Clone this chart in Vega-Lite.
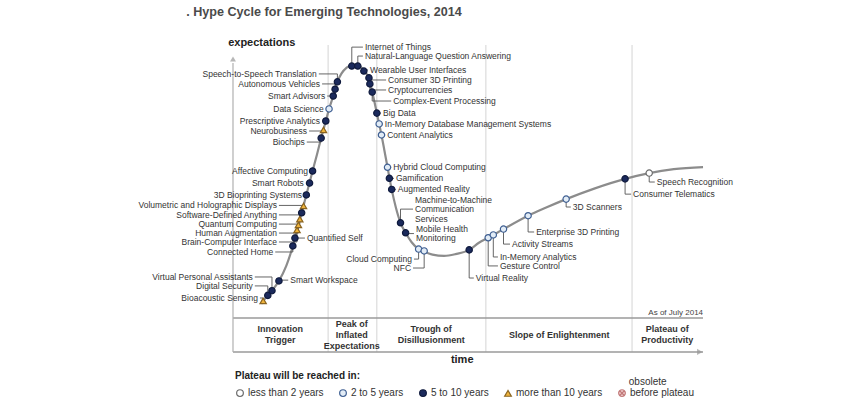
{
  "$schema": "https://vega.github.io/schema/vega-lite/v6.json",
  "width": 464,
  "height": 263,
  "autosize": {"type": "none"},
  "padding": {"left": 233, "top": 55, "right": 153, "bottom": 81},
  "background": "#ffffff",
  "config": {"view": {"stroke": null}, "font": "Liberation Sans", "axis": {"disable": true}},
  "datasets": {
    "separators": [{"t": 20.5}, {"t": 31.0}, {"t": 54.5}, {"t": 86.0}],
    "bandLines": [{"e": 0}, {"e": -12.9}],
    "yline": [{"t": 0}],
    "arrowUp": [{"t": 0, "e": 98.5}],
    "arrowRight": [{"t": 100.6, "e": -12.9}],
    "curve": [
      {"t": 6.1, "e": 5.4}, {"t": 6.5, "e": 6.5}, {"t": 7.5, "e": 8.6}, {"t": 8.4, "e": 10.4},
      {"t": 9.9, "e": 14.1}, {"t": 11.5, "e": 19.9}, {"t": 12.9, "e": 27.4}, {"t": 13.8, "e": 33.5},
      {"t": 14.8, "e": 40.0}, {"t": 15.8, "e": 46.8}, {"t": 17.15, "e": 55.9}, {"t": 18.1, "e": 62.2},
      {"t": 19.0, "e": 68.4}, {"t": 20.0, "e": 74.9}, {"t": 20.7, "e": 79.5}, {"t": 21.6, "e": 84.4},
      {"t": 22.0, "e": 87.0}, {"t": 22.5, "e": 89.8}, {"t": 23.4, "e": 93.0}, {"t": 24.5, "e": 95.2},
      {"t": 25.6, "e": 96.2}, {"t": 26.3, "e": 96.4}, {"t": 26.9, "e": 96.2}, {"t": 28.2, "e": 94.2},
      {"t": 29.3, "e": 91.0}, {"t": 30.0, "e": 86.0}, {"t": 31.0, "e": 77.9}, {"t": 31.5, "e": 73.8},
      {"t": 32.0, "e": 69.6}, {"t": 32.6, "e": 64.0}, {"t": 33.3, "e": 57.3}, {"t": 34.2, "e": 48.9},
      {"t": 35.1, "e": 42.0}, {"t": 36.1, "e": 36.2}, {"t": 37.2, "e": 32.4}, {"t": 38.5, "e": 28.8},
      {"t": 40.0, "e": 26.2}, {"t": 41.2, "e": 25.2}, {"t": 43.0, "e": 24.1}, {"t": 45.5, "e": 23.6},
      {"t": 48.0, "e": 24.3}, {"t": 50.9, "e": 25.9}, {"t": 53.0, "e": 28.6}, {"t": 55.0, "e": 30.5},
      {"t": 58.3, "e": 33.8}, {"t": 63.6, "e": 38.9}, {"t": 67.5, "e": 42.0}, {"t": 71.8, "e": 45.2},
      {"t": 78.0, "e": 49.3}, {"t": 84.5, "e": 52.9}, {"t": 89.7, "e": 55.1}, {"t": 95.0, "e": 56.6},
      {"t": 101.3, "e": 57.4}
    ],
    "techs": [
      {"tech": "Bioacoustic Sensing", "plateau": "more than 10 years", "t": 6.5, "e": 6.5, "lx": 5.8, "ly": 7.6, "side": "L"},
      {"tech": "Digital Security", "plateau": "5 to 10 years", "t": 7.5, "e": 8.6, "lx": 4.7, "ly": 12.2, "side": "L"},
      {"tech": "Virtual Personal Assistants", "plateau": "5 to 10 years", "t": 8.4, "e": 10.4, "lx": 4.7, "ly": 15.6, "side": "L"},
      {"tech": "Smart Workspace", "plateau": "5 to 10 years", "t": 9.9, "e": 14.1, "lx": 11.9, "ly": 14.4, "side": "R"},
      {"tech": "Connected Home", "plateau": "5 to 10 years", "t": 12.9, "e": 27.4, "lx": 9.1, "ly": 25.1, "side": "L"},
      {"tech": "Quantified Self", "plateau": "5 to 10 years", "t": 13.35, "e": 30.4, "lx": 15.5, "ly": 30.4, "side": "R"},
      {"tech": "Brain-Computer Interface", "plateau": "more than 10 years", "t": 13.8, "e": 33.5, "lx": 9.9, "ly": 28.9, "side": "L"},
      {"tech": "Human Augmentation", "plateau": "more than 10 years", "t": 14.1, "e": 35.4, "lx": 9.9, "ly": 32.3, "side": "L"},
      {"tech": "Quantum Computing", "plateau": "more than 10 years", "t": 14.4, "e": 37.6, "lx": 9.9, "ly": 35.7, "side": "L"},
      {"tech": "Software-Defined Anything", "plateau": "5 to 10 years", "t": 14.8, "e": 40.0, "lx": 9.9, "ly": 39.2, "side": "L"},
      {"tech": "Volumetric and Holographic Displays", "plateau": "more than 10 years", "t": 15.2, "e": 42.6, "lx": 9.9, "ly": 42.8, "side": "L"},
      {"tech": "3D Bioprinting Systems", "plateau": "5 to 10 years", "t": 15.8, "e": 46.8, "lx": 15.3, "ly": 46.8, "side": "L"},
      {"tech": "Smart Robots", "plateau": "5 to 10 years", "t": 16.5, "e": 51.3, "lx": 15.7, "ly": 51.3, "side": "L"},
      {"tech": "Affective  Computing", "plateau": "5 to 10 years", "t": 17.15, "e": 55.9, "lx": 16.6, "ly": 55.9, "side": "L"},
      {"tech": "Biochips", "plateau": "5 to 10 years", "t": 19.0, "e": 68.4, "lx": 15.9, "ly": 66.9, "side": "L"},
      {"tech": "Neurobusiness", "plateau": "more than 10 years", "t": 19.5, "e": 71.5, "lx": 16.4, "ly": 71.1, "side": "L"},
      {"tech": "Prescriptive Analytics", "plateau": "5 to 10 years", "t": 20.0, "e": 74.9, "lx": 19.2, "ly": 74.9, "side": "L"},
      {"tech": "Data Science", "plateau": "2 to 5 years", "t": 20.7, "e": 79.5, "lx": 20.0, "ly": 79.5, "side": "L"},
      {"tech": "Smart Advisors", "plateau": "5 to 10 years", "t": 21.6, "e": 84.4, "lx": 20.3, "ly": 84.4, "side": "L"},
      {"tech": "Autonomous Vehicles", "plateau": "5 to 10 years", "t": 22.0, "e": 87.0, "lx": 19.2, "ly": 89.0, "side": "L"},
      {"tech": "Speech-to-Speech Translation", "plateau": "5 to 10 years", "t": 22.5, "e": 89.8, "lx": 18.5, "ly": 92.8, "side": "L"},
      {"tech": "Internet of Things", "plateau": "5 to 10 years", "t": 25.6, "e": 95.8, "lx": 28.0, "ly": 103.0, "side": "R"},
      {"tech": "Natural-Language Question Answering", "plateau": "5 to 10 years", "t": 26.9, "e": 95.8, "lx": 28.0, "ly": 99.6, "side": "R"},
      {"tech": "Wearable User Interfaces", "plateau": "5 to 10 years", "t": 28.2, "e": 93.9, "lx": 29.1, "ly": 94.3, "side": "R"},
      {"tech": "Consumer 3D Printing", "plateau": "5 to 10 years", "t": 29.3, "e": 91.3, "lx": 33.0, "ly": 90.5, "side": "R"},
      {"tech": "Cryptocurrencies", "plateau": "5 to 10 years", "t": 29.5, "e": 89.0, "lx": 33.0, "ly": 86.7, "side": "R"},
      {"tech": "Complex-Event Processing", "plateau": "5 to 10 years", "t": 30.0, "e": 85.9, "lx": 34.1, "ly": 82.5, "side": "R"},
      {"tech": "Big Data", "plateau": "5 to 10 years", "t": 31.0, "e": 77.9, "lx": 31.9, "ly": 77.9, "side": "R"},
      {"tech": "In-Memory Database Management Systems", "plateau": "2 to 5 years", "t": 31.5, "e": 73.8, "lx": 32.3, "ly": 73.8, "side": "R"},
      {"tech": "Content Analytics", "plateau": "2 to 5 years", "t": 32.0, "e": 69.6, "lx": 32.8, "ly": 69.6, "side": "R"},
      {"tech": "Hybrid Cloud Computing", "plateau": "2 to 5 years", "t": 33.3, "e": 57.3, "lx": 34.1, "ly": 57.3, "side": "R"},
      {"tech": "Gamification", "plateau": "5 to 10 years", "t": 33.7, "e": 53.1, "lx": 34.7, "ly": 53.1, "side": "R"},
      {"tech": "Augmented Reality", "plateau": "5 to 10 years", "t": 34.2, "e": 48.9, "lx": 35.1, "ly": 48.9, "side": "R"},
      {"tech": "Machine-to-Machine\nCommunication\nServices", "plateau": "5 to 10 years", "t": 36.1, "e": 36.2, "lx": 38.8, "ly": 41.4, "side": "R"},
      {"tech": "Mobile Health\nMonitoring", "plateau": "5 to 10 years", "t": 37.2, "e": 32.4, "lx": 39.0, "ly": 32.1, "side": "R"},
      {"tech": "Cloud Computing", "plateau": "2 to 5 years", "t": 40.0, "e": 26.2, "lx": 39.0, "ly": 22.4, "side": "L"},
      {"tech": "NFC", "plateau": "2 to 5 years", "t": 41.2, "e": 25.5, "lx": 38.8, "ly": 19.0, "side": "L"},
      {"tech": "Virtual Reality", "plateau": "5 to 10 years", "t": 50.9, "e": 25.9, "lx": 51.9, "ly": 15.2, "side": "R"},
      {"tech": "Gesture Control", "plateau": "2 to 5 years", "t": 55.0, "e": 30.5, "lx": 57.1, "ly": 19.8, "side": "R"},
      {"tech": "In-Memory Analytics", "plateau": "2 to 5 years", "t": 56.1, "e": 31.6, "lx": 57.1, "ly": 23.2, "side": "R"},
      {"tech": "Activity  Streams", "plateau": "2 to 5 years", "t": 58.3, "e": 33.8, "lx": 59.7, "ly": 28.1, "side": "R"},
      {"tech": "Enterprise 3D Printing", "plateau": "2 to 5 years", "t": 63.6, "e": 38.9, "lx": 64.9, "ly": 32.7, "side": "R"},
      {"tech": "3D Scanners", "plateau": "2 to 5 years", "t": 71.8, "e": 45.2, "lx": 72.8, "ly": 42.2, "side": "R"},
      {"tech": "Consumer Telematics", "plateau": "5 to 10 years", "t": 84.5, "e": 52.9, "lx": 85.8, "ly": 47.1, "side": "R"},
      {"tech": "Speech Recognition", "plateau": "less than 2 years", "t": 89.7, "e": 55.1, "lx": 90.9, "ly": 51.7, "side": "R"}
    ],
    "phases": [
      {"phase": "Innovation\nTrigger", "t": 10.2},
      {"phase": "Peak of\nInflated\nExpectations", "t": 25.6},
      {"phase": "Trough of\nDisillusionment", "t": 42.7},
      {"phase": "Slope of Enlightenment", "t": 70.3},
      {"phase": "Plateau of\nProductivity", "t": 93.6}
    ],
    "notes": [
      {"note": ". Hype Cycle for Emerging Technologies, 2014", "kind": "title", "t": -10.1, "e": 116.3},
      {"note": "expectations", "kind": "axis", "t": 6.2, "e": 104.6},
      {"note": "time", "kind": "axis", "t": 49.4, "e": -16.0},
      {"note": "As of July 2014", "kind": "asof", "t": 101.3, "e": 1.9},
      {"note": "obsolete", "kind": "legendnote", "t": 85.3, "e": -24.5}
    ]
  },
  "layer": [
    {
      "data": {"name": "separators"},
      "mark": {"type": "rule", "color": "#d4d4d4", "strokeWidth": 1},
      "encoding": {
        "x": {"field": "t", "type": "quantitative", "scale": {"domain": [0, 100], "nice": false, "zero": false}},
        "y": {"datum": 103.8, "type": "quantitative", "scale": {"domain": [0, 100], "nice": false, "zero": false}},
        "y2": {"datum": -12.9}
      }
    },
    {
      "data": {"name": "bandLines"},
      "mark": {"type": "rule", "color": "#9a9a9a", "strokeWidth": 1.5},
      "encoding": {
        "x": {"datum": 0, "type": "quantitative", "scale": {"domain": [0, 100], "nice": false, "zero": false}},
        "x2": {"datum": 101.3},
        "y": {"field": "e", "type": "quantitative", "scale": {"domain": [0, 100], "nice": false, "zero": false}}
      }
    },
    {
      "data": {"name": "yline"},
      "mark": {"type": "rule", "color": "#b0b0b0", "strokeWidth": 1.2},
      "encoding": {
        "x": {"field": "t", "type": "quantitative", "scale": {"domain": [0, 100], "nice": false, "zero": false}},
        "y": {"datum": 97.0, "type": "quantitative", "scale": {"domain": [0, 100], "nice": false, "zero": false}},
        "y2": {"datum": -12.9}
      }
    },
    {
      "data": {"name": "arrowUp"},
      "mark": {"type": "point", "shape": "triangle-up", "filled": true, "color": "#999999", "size": 35},
      "encoding": {
        "x": {"field": "t", "type": "quantitative", "scale": {"domain": [0, 100], "nice": false, "zero": false}},
        "y": {"field": "e", "type": "quantitative", "scale": {"domain": [0, 100], "nice": false, "zero": false}}
      }
    },
    {
      "data": {"name": "arrowRight"},
      "mark": {"type": "point", "shape": "triangle-right", "filled": true, "color": "#999999", "size": 40},
      "encoding": {
        "x": {"field": "t", "type": "quantitative", "scale": {"domain": [0, 100], "nice": false, "zero": false}},
        "y": {"field": "e", "type": "quantitative", "scale": {"domain": [0, 100], "nice": false, "zero": false}}
      }
    },
    {
      "data": {"name": "curve"},
      "mark": {"type": "line", "interpolate": "monotone", "color": "#8c8c8c", "strokeWidth": 2.2},
      "encoding": {
        "x": {"field": "t", "type": "quantitative", "scale": {"domain": [0, 100], "nice": false, "zero": false}},
        "y": {"field": "e", "type": "quantitative", "scale": {"domain": [0, 100], "nice": false, "zero": false}}
      }
    },
    {
      "data": {"name": "techs"},
      "mark": {"type": "rule", "color": "#555555", "strokeWidth": 0.9},
      "encoding": {
        "x": {"field": "t", "type": "quantitative", "scale": {"domain": [0, 100], "nice": false, "zero": false}},
        "y": {"field": "e", "type": "quantitative", "scale": {"domain": [0, 100], "nice": false, "zero": false}},
        "y2": {"field": "ly"}
      }
    },
    {
      "data": {"name": "techs"},
      "mark": {"type": "rule", "color": "#555555", "strokeWidth": 0.9},
      "encoding": {
        "x": {"field": "t", "type": "quantitative", "scale": {"domain": [0, 100], "nice": false, "zero": false}},
        "x2": {"field": "lx"},
        "y": {"field": "ly", "type": "quantitative", "scale": {"domain": [0, 100], "nice": false, "zero": false}}
      }
    },
    {
      "data": {"name": "techs"},
      "mark": {"type": "point", "filled": true, "size": 40, "strokeWidth": 1.2, "opacity": 1},
      "encoding": {
        "x": {"field": "t", "type": "quantitative", "scale": {"domain": [0, 100], "nice": false, "zero": false}},
        "y": {"field": "e", "type": "quantitative", "scale": {"domain": [0, 100], "nice": false, "zero": false}},
        "shape": {
          "field": "plateau", "type": "nominal",
          "scale": {"domain": ["less than 2 years", "2 to 5 years", "5 to 10 years", "more than 10 years", "obsolete before plateau"],
                    "range": ["circle", "circle", "circle", "triangle-up", "M-1,0A1,1,0,1,1,1,0A1,1,0,1,1,-1,0ZM-0.7,-0.7L0.7,0.7M-0.7,0.7L0.7,-0.7"]},
          "legend": {"title": "Plateau will be reached in:", "orient": "none", "legendX": 2, "legendY": 316, "direction": "horizontal",
                     "titleFontSize": 10, "titleFontWeight": "bold", "titleColor": "#222222", "labelFontSize": 10, "labelColor": "#333333",
                     "symbolSize": 45, "symbolStrokeWidth": 1.2, "columnPadding": 13, "labelOffset": 3, "titlePadding": 7, "labelLimit": 200,
                     "labelExpr": "datum.label == 'obsolete before plateau' ? 'before plateau' : datum.label"}
        },
        "fill": {
          "field": "plateau", "type": "nominal",
          "scale": {"domain": ["less than 2 years", "2 to 5 years", "5 to 10 years", "more than 10 years", "obsolete before plateau"],
                    "range": ["#ffffff", "#e2ecf6", "#1b2a5c", "#f0b43c", "#f3d3d3"]},
          "legend": {"title": "Plateau will be reached in:", "orient": "none", "legendX": 2, "legendY": 316, "direction": "horizontal",
                     "titleFontSize": 10, "titleFontWeight": "bold", "titleColor": "#222222", "labelFontSize": 10, "labelColor": "#333333",
                     "symbolSize": 45, "symbolStrokeWidth": 1.2, "columnPadding": 13, "labelOffset": 3, "titlePadding": 7, "labelLimit": 200,
                     "labelExpr": "datum.label == 'obsolete before plateau' ? 'before plateau' : datum.label"}
        },
        "stroke": {
          "field": "plateau", "type": "nominal",
          "scale": {"domain": ["less than 2 years", "2 to 5 years", "5 to 10 years", "more than 10 years", "obsolete before plateau"],
                    "range": ["#6b6b6b", "#3f5f92", "#0f1a3d", "#8a6420", "#c27a7a"]},
          "legend": {"title": "Plateau will be reached in:", "orient": "none", "legendX": 2, "legendY": 316, "direction": "horizontal",
                     "titleFontSize": 10, "titleFontWeight": "bold", "titleColor": "#222222", "labelFontSize": 10, "labelColor": "#333333",
                     "symbolSize": 45, "symbolStrokeWidth": 1.2, "columnPadding": 13, "labelOffset": 3, "titlePadding": 7, "labelLimit": 200,
                     "labelExpr": "datum.label == 'obsolete before plateau' ? 'before plateau' : datum.label"}
        }
      }
    },
    {
      "data": {"name": "techs"},
      "transform": [{"filter": "datum.side === 'L'"}],
      "mark": {"type": "text", "align": "right", "baseline": "middle", "dx": -2, "fontSize": 8.5, "color": "#333333"},
      "encoding": {
        "x": {"field": "lx", "type": "quantitative", "scale": {"domain": [0, 100], "nice": false, "zero": false}},
        "y": {"field": "ly", "type": "quantitative", "scale": {"domain": [0, 100], "nice": false, "zero": false}},
        "text": {"field": "tech"}
      }
    },
    {
      "data": {"name": "techs"},
      "transform": [{"filter": "datum.side === 'R' && indexof(datum.tech, '\\n') < 0"}],
      "mark": {"type": "text", "align": "left", "baseline": "middle", "dx": 2, "fontSize": 8.5, "color": "#333333"},
      "encoding": {
        "x": {"field": "lx", "type": "quantitative", "scale": {"domain": [0, 100], "nice": false, "zero": false}},
        "y": {"field": "ly", "type": "quantitative", "scale": {"domain": [0, 100], "nice": false, "zero": false}},
        "text": {"field": "tech"}
      }
    },
    {
      "data": {"name": "techs"},
      "transform": [{"filter": "length(split(datum.tech, '\\n')) === 3"}],
      "mark": {"type": "text", "align": "left", "baseline": "middle", "dx": 2, "dy": -9.5, "fontSize": 8.5, "color": "#333333", "lineBreak": "\n", "lineHeight": 9.5},
      "encoding": {
        "x": {"field": "lx", "type": "quantitative", "scale": {"domain": [0, 100], "nice": false, "zero": false}},
        "y": {"field": "ly", "type": "quantitative", "scale": {"domain": [0, 100], "nice": false, "zero": false}},
        "text": {"field": "tech"}
      }
    },
    {
      "data": {"name": "techs"},
      "transform": [{"filter": "length(split(datum.tech, '\\n')) === 2"}],
      "mark": {"type": "text", "align": "left", "baseline": "middle", "dx": 2, "dy": -4.75, "fontSize": 8.5, "color": "#333333", "lineBreak": "\n", "lineHeight": 9.5},
      "encoding": {
        "x": {"field": "lx", "type": "quantitative", "scale": {"domain": [0, 100], "nice": false, "zero": false}},
        "y": {"field": "ly", "type": "quantitative", "scale": {"domain": [0, 100], "nice": false, "zero": false}},
        "text": {"field": "tech"}
      }
    },
    {
      "data": {"name": "phases"},
      "transform": [{"filter": "length(split(datum.phase, '\\n')) === 1"}],
      "mark": {"type": "text", "align": "center", "baseline": "middle", "fontSize": 9, "fontWeight": "bold", "color": "#333333"},
      "encoding": {
        "x": {"field": "t", "type": "quantitative", "scale": {"domain": [0, 100], "nice": false, "zero": false}},
        "y": {"datum": -6.4, "type": "quantitative", "scale": {"domain": [0, 100], "nice": false, "zero": false}},
        "text": {"field": "phase"}
      }
    },
    {
      "data": {"name": "phases"},
      "transform": [{"filter": "length(split(datum.phase, '\\n')) === 2"}],
      "mark": {"type": "text", "align": "center", "baseline": "middle", "dy": -5.5, "fontSize": 9, "fontWeight": "bold", "color": "#333333", "lineBreak": "\n", "lineHeight": 11},
      "encoding": {
        "x": {"field": "t", "type": "quantitative", "scale": {"domain": [0, 100], "nice": false, "zero": false}},
        "y": {"datum": -6.4, "type": "quantitative", "scale": {"domain": [0, 100], "nice": false, "zero": false}},
        "text": {"field": "phase"}
      }
    },
    {
      "data": {"name": "phases"},
      "transform": [{"filter": "length(split(datum.phase, '\\n')) === 3"}],
      "mark": {"type": "text", "align": "center", "baseline": "middle", "dy": -11, "fontSize": 9, "fontWeight": "bold", "color": "#333333", "lineBreak": "\n", "lineHeight": 11},
      "encoding": {
        "x": {"field": "t", "type": "quantitative", "scale": {"domain": [0, 100], "nice": false, "zero": false}},
        "y": {"datum": -6.4, "type": "quantitative", "scale": {"domain": [0, 100], "nice": false, "zero": false}},
        "text": {"field": "phase"}
      }
    },
    {
      "data": {"name": "notes"},
      "transform": [{"filter": "datum.kind === 'title'"}],
      "mark": {"type": "text", "align": "left", "baseline": "middle", "fontSize": 12.6, "fontWeight": "bold", "color": "#4a4a4a"},
      "encoding": {
        "x": {"field": "t", "type": "quantitative", "scale": {"domain": [0, 100], "nice": false, "zero": false}},
        "y": {"field": "e", "type": "quantitative", "scale": {"domain": [0, 100], "nice": false, "zero": false}},
        "text": {"field": "note"}
      }
    },
    {
      "data": {"name": "notes"},
      "transform": [{"filter": "datum.kind === 'axis'"}],
      "mark": {"type": "text", "align": "center", "baseline": "middle", "fontSize": 11, "fontWeight": "bold", "color": "#222222"},
      "encoding": {
        "x": {"field": "t", "type": "quantitative", "scale": {"domain": [0, 100], "nice": false, "zero": false}},
        "y": {"field": "e", "type": "quantitative", "scale": {"domain": [0, 100], "nice": false, "zero": false}},
        "text": {"field": "note"}
      }
    },
    {
      "data": {"name": "notes"},
      "transform": [{"filter": "datum.kind === 'asof'"}],
      "mark": {"type": "text", "align": "right", "baseline": "middle", "fontSize": 8, "color": "#444444"},
      "encoding": {
        "x": {"field": "t", "type": "quantitative", "scale": {"domain": [0, 100], "nice": false, "zero": false}},
        "y": {"field": "e", "type": "quantitative", "scale": {"domain": [0, 100], "nice": false, "zero": false}},
        "text": {"field": "note"}
      }
    },
    {
      "data": {"name": "notes"},
      "transform": [{"filter": "datum.kind === 'legendnote'"}],
      "mark": {"type": "text", "align": "left", "baseline": "middle", "fontSize": 10, "color": "#333333"},
      "encoding": {
        "x": {"field": "t", "type": "quantitative", "scale": {"domain": [0, 100], "nice": false, "zero": false}},
        "y": {"field": "e", "type": "quantitative", "scale": {"domain": [0, 100], "nice": false, "zero": false}},
        "text": {"field": "note"}
      }
    }
  ]
}
